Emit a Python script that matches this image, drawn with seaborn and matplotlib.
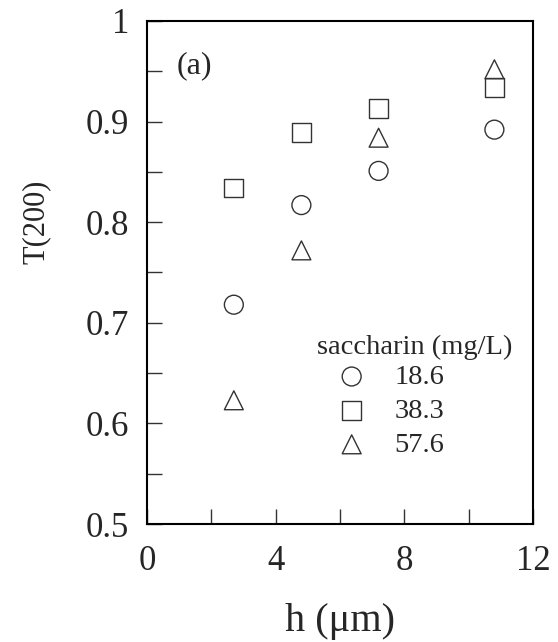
import matplotlib
matplotlib.use("Agg")
import matplotlib.pyplot as plt
import seaborn as sns
from matplotlib.ticker import MultipleLocator

# data
h = [2.7, 4.8, 7.2, 10.8]
t_186 = [0.718, 0.817, 0.851, 0.892]
t_383 = [0.834, 0.889, 0.913, 0.934]
t_576 = [0.623, 0.772, 0.884, 0.952]
labels = ["18.6", "38.3", "57.6"]
markers = ["o", "s", "^"]

sns.set_style("ticks")
plt.rcParams["font.family"] = ["Liberation Serif", "DejaVu Serif"]

fig = plt.figure(figsize=(5.58, 6.42), dpi=100)
ax = fig.add_axes([0.2634, 0.1838, 0.6918, 0.7835])

edge = "#333333"
for vals, lab, m in zip([t_186, t_383, t_576], labels, markers):
    sns.scatterplot(x=h, y=vals, marker=m, s=185, color=edge,
                    facecolor="none", edgecolor=edge, linewidth=1.0,
                    label=lab, ax=ax)

ax.set_xlim(0, 12)
ax.set_ylim(0.5, 1.0)
ax.xaxis.set_major_locator(MultipleLocator(4))
ax.xaxis.set_minor_locator(MultipleLocator(2))
ax.yaxis.set_minor_locator(MultipleLocator(0.05))
ax.set_yticks([0.5, 0.6, 0.7, 0.8, 0.9, 1.0])
ax.set_yticklabels(["0.5", "0.6", "0.7", "0.8", "0.9", "1"])

ax.tick_params(which="both", direction="in", length=10.5, width=1.0,
               top=False, right=False, color="#333333")
ax.tick_params(which="major", labelsize=25, pad=13)
ax.tick_params(axis="x", which="major", pad=15)
for sp in ax.spines.values():
    sp.set_linewidth(1.5)
    sp.set_color("black")

ax.set_xlabel("h (μm)", fontsize=29)
ax.set_ylabel("T(200)", fontsize=22)
ax.xaxis.set_label_coords(0.5, -0.158)
ax.yaxis.set_label_coords(-0.25, 0.60)

ax.text(0.078, 0.912, "(a)", transform=ax.transAxes, fontsize=23,
        va="center", ha="left")
ax.text(0.44, 0.352, "saccharin (mg/L)", transform=ax.transAxes,
        fontsize=20.5, va="center", ha="left")
ax.legend(loc="upper left", bbox_to_anchor=(0.486, 0.318), frameon=False,
          fontsize=20.5, labelspacing=0.28, handletextpad=0.9,
          borderpad=0, borderaxespad=0, handlelength=1.2)

fig.savefig("out.png", dpi=100)
